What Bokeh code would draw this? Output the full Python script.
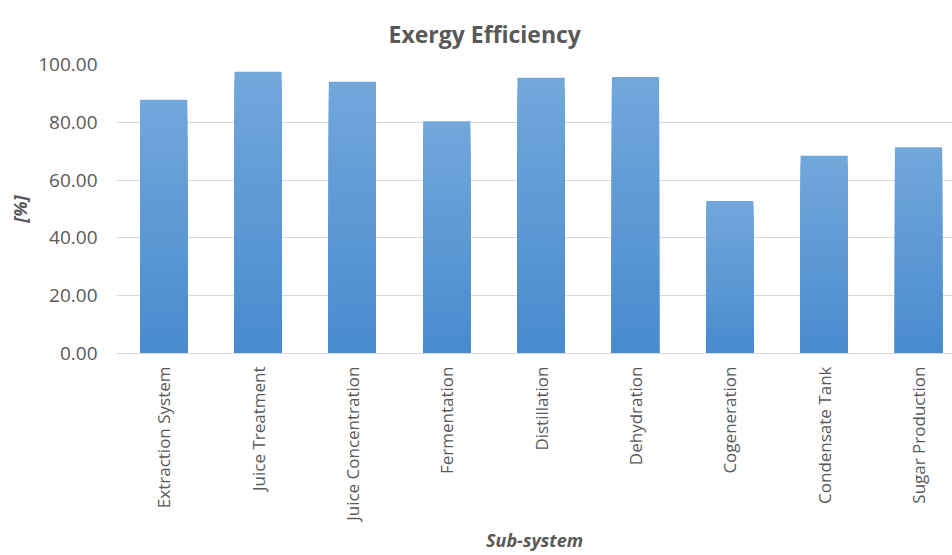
from bokeh.plotting import figure
from bokeh.models import Range1d, FixedTicker, NumeralTickFormatter
from bokeh.embed import file_html
from bokeh.resources import INLINE

categories = ["Extraction System", "Juice Treatment", "Juice Concentration", "Fermentation",
              "Distillation", "Dehydration", "Cogeneration", "Condensate Tank", "Sugar Production"]
efficiency = [87.8, 97.5, 94.0, 80.4, 95.4, 95.7, 52.8, 68.4, 71.4]
y_ticks = [0, 20, 40, 60, 80, 100]
title_text = "Exergy Efficiency"

FONT = "Open Sans"
GRAY = "#595959"

p = figure(width=952, height=555, output_backend="svg", toolbar_location=None,
           x_range=Range1d(-0.5, 8.36), y_range=Range1d(0, 100),
           min_border_left=116, min_border_right=0, min_border_top=64, min_border_bottom=202)
p.outline_line_color = None

# gradient bars: overlapping layers, tallest (lightest) first, darker shorter on top
n = 30
top_rgb = (0x72, 0xA7, 0xDB)
bot_rgb = (0x48, 0x8B, 0xCF)
xs = list(range(len(categories)))
for k in range(n, 0, -1):
    t = (k - 0.5) / n
    c = tuple(int(round(b + (a - b) * t)) for a, b in zip(top_rgb, bot_rgb))
    col = "#%02x%02x%02x" % c
    p.vbar(x=xs, width=0.5, bottom=0,
           top=[v * k / n for v in efficiency],
           fill_color=col, line_color=None)

p.title.text = title_text
p.title.text_font = FONT
p.title.text_font_size = "23px"
p.title.text_font_style = "bold"
p.title.text_color = GRAY
p.title.align = "left"
p.title.offset = 272
p.title.standoff = 29

p.xgrid.grid_line_color = None
p.ygrid.grid_line_color = "#D9D9D9"
p.ygrid.grid_line_width = 1

xa = p.xaxis[0]
xa.ticker = FixedTicker(ticks=xs)
xa.major_label_overrides = {i: c for i, c in enumerate(categories)}
xa.major_label_orientation = 1.5708
xa.major_tick_line_color = None
xa.minor_tick_line_color = None
xa.axis_line_color = "#D9D9D9"
xa.major_label_text_font = FONT
xa.major_label_text_font_size = "17px"
xa.major_label_text_color = GRAY
xa.major_label_standoff = 7
xa.axis_label = "Sub-system"
xa.axis_label_text_font = FONT
xa.axis_label_text_font_size = "18px"
xa.axis_label_text_font_style = "bold italic"
xa.axis_label_text_color = GRAY
xa.axis_label_standoff = 4

ya = p.yaxis[0]
ya.ticker = FixedTicker(ticks=y_ticks)
ya.formatter = NumeralTickFormatter(format="0.00")
ya.axis_line_color = None
ya.major_tick_line_color = None
ya.minor_tick_line_color = None
ya.major_label_text_font = FONT
ya.major_label_text_font_size = "19px"
ya.major_label_text_color = GRAY
ya.major_label_standoff = 13
ya.axis_label = "[%]"
ya.axis_label_text_font = FONT
ya.axis_label_text_font_size = "18px"
ya.axis_label_text_font_style = "bold italic"
ya.axis_label_text_color = GRAY
ya.axis_label_standoff = 3

open("out.html", "w").write(file_html(p, INLINE))
